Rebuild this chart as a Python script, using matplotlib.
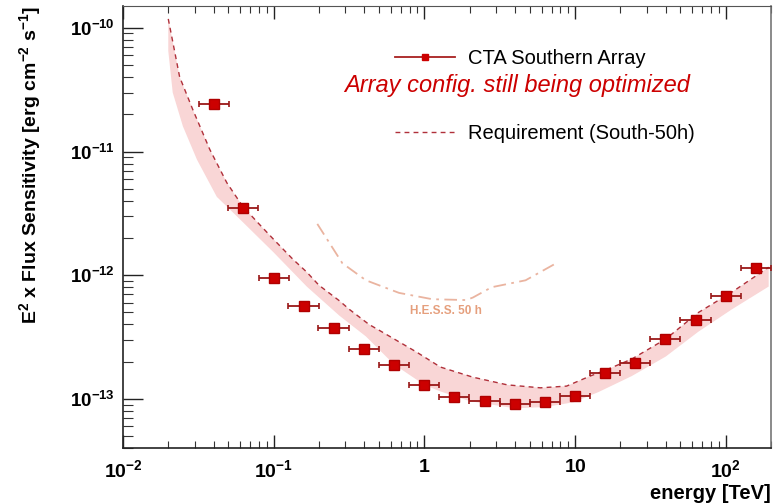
import numpy as np
import matplotlib
matplotlib.use("Agg")
import matplotlib.pyplot as plt
from matplotlib.ticker import FixedLocator, NullFormatter, LogLocator

plt.rcParams['font.family'] = ['Liberation Sans', 'DejaVu Sans']
plt.rcParams['mathtext.fontset'] = 'custom'
plt.rcParams['mathtext.rm'] = 'Liberation Sans'
plt.rcParams['mathtext.it'] = 'Liberation Sans:italic'
plt.rcParams['mathtext.bf'] = 'Liberation Sans:bold'

# ---- data ----
energy = [0.04, 0.063, 0.1, 0.158, 0.25, 0.398, 0.63, 1.0, 1.58, 2.51, 3.98,
          6.31, 10.0, 15.8, 25.1, 39.8, 63.1, 100.0, 158.0]
sensitivity = [2.44e-11, 3.5e-12, 9.5e-13, 5.6e-13, 3.74e-13, 2.53e-13, 1.88e-13,
               1.30e-13, 1.04e-13, 9.6e-14, 9.1e-14, 9.5e-14, 1.06e-13, 1.62e-13,
               1.95e-13, 3.05e-13, 4.33e-13, 6.8e-13, 1.14e-12]
sens_err = [1.8e-12, 1e-13, 2e-14, 1e-14, 6e-15, 4e-15, 3e-15, 2e-15, 2e-15, 2e-15,
            2e-15, 2e-15, 2e-15, 3e-15, 4e-15, 6e-15, 8e-15, 1.2e-14, 2e-14]
bin_half_width_dex = 0.1

req_energy = [0.02, 0.0238, 0.0291, 0.0377, 0.0489, 0.0624, 0.08, 0.1, 0.134, 0.166,
              0.2, 0.274, 0.318, 0.43, 0.527, 0.885, 1.28, 2.1, 3.55, 5.9, 8.8,
              12.6, 15.8, 23.8, 40.0, 66.0, 110.0, 193.0]
req_sens = [1.18e-10, 4.0e-11, 2.18e-11, 1.04e-11, 5.6e-12, 3.6e-12, 2.6e-12, 1.95e-12,
            1.35e-12, 1.06e-12, 8.3e-13, 6.2e-13, 5.3e-13, 4.0e-13, 3.47e-13, 2.4e-13,
            1.81e-13, 1.5e-13, 1.3e-13, 1.23e-13, 1.27e-13, 1.53e-13, 1.7e-13, 2.1e-13,
            3.05e-13, 5.0e-13, 7.3e-13, 1.16e-12]

band_energy = [0.02, 0.0214, 0.025, 0.031, 0.042, 0.057, 0.1, 0.166, 0.274, 0.41,
               0.63, 1.0, 1.28, 2.0, 4.0, 6.3, 9.8, 14.4, 23.8, 40.0, 66.0, 110.0, 193.0]
band_low = [6.5e-11, 3.0e-11, 1.6e-11, 8.6e-12, 4.3e-12, 3.0e-12, 1.53e-12, 8.1e-13,
            4.7e-13, 3.2e-13, 1.9e-13, 1.3e-13, 1.15e-13, 9.6e-14, 8.4e-14, 8.6e-14,
            9.4e-14, 1.14e-13, 1.53e-13, 2.2e-13, 3.5e-13, 5.3e-13, 8.1e-13]

hess_energy = [0.195, 0.286, 0.41, 0.68, 1.13, 1.9, 2.1, 2.8, 4.7, 7.5]
hess_sens = [2.6e-12, 1.25e-12, 9.1e-13, 7.2e-13, 6.4e-13, 6.3e-13, 6.6e-13, 8.0e-13,
             9.1e-13, 1.25e-12]

x_ticks = [0.01, 0.1, 1, 10, 100]
x_ticklabels = [r'$\mathbf{10^{-2}}$', r'$\mathbf{10^{-1}}$', r'$\mathbf{1}$',
                r'$\mathbf{10}$', r'$\mathbf{10^{2}}$']
y_ticks = [1e-13, 1e-12, 1e-11, 1e-10]
y_ticklabels = [r'$\mathbf{10^{-13}}$', r'$\mathbf{10^{-12}}$', r'$\mathbf{10^{-11}}$',
                r'$\mathbf{10^{-10}}$']

# ---- figure ----
fig = plt.figure(figsize=(7.78, 5.03), dpi=100)
ax = fig.add_axes([0.158, 0.109, 0.833, 0.879])
ax.set_xscale('log')
ax.set_yscale('log')
ax.set_xlim(0.01, 200)
ax.set_ylim(4e-14, 1.5e-10)

# band
poly_x = list(req_energy) + list(band_energy[::-1])
poly_y = list(req_sens) + list(band_low[::-1])
ax.fill(poly_x, poly_y, color='#f9d6d6', lw=0, zorder=1)

# requirement curve
ax.plot(req_energy, req_sens, color='#b0303a', lw=1.0, ls=(0, (3.5, 3)), zorder=2,
        label='Requirement (South-50h)')

# HESS curve
ax.plot(hess_energy, hess_sens, color='#eab4a0', lw=1.3, ls=(0, (7, 3, 1.5, 3)), zorder=2)
ax.text(1.4, 5.1e-13, 'H.E.S.S. 50 h', color='#e3956f', fontsize=8.5,
        ha='center', va='center', fontweight='bold', alpha=0.9)

# CTA points
e = np.array(energy)
xlo = e - e / 10 ** bin_half_width_dex
xhi = e * 10 ** bin_half_width_dex - e
ax.errorbar(energy, sensitivity, xerr=[xlo, xhi], yerr=sens_err, fmt='s',
            color='#cc0000', mec='#b00000', ms=7, ecolor='#9a1818', elinewidth=1.3,
            capsize=2.2, capthick=1.2, zorder=3, label='_nolegend_')
# legend proxy
ax.plot([], [], color='#a82020', lw=1.3, marker='s', ms=5, mfc='#cc0000', mec='#cc0000',
        label='CTA Southern Array')

handles, labels = ax.get_legend_handles_labels()
order = [labels.index('CTA Southern Array'), labels.index('Requirement (South-50h)')]
leg = ax.legend([handles[i] for i in order], [labels[i] for i in order],
                loc='upper left', bbox_to_anchor=(0.42, 0.902), frameon=False,
                fontsize=14.5, handlelength=2.95, handletextpad=0.65, labelspacing=2.78,
                borderpad=0, borderaxespad=0)

ax.text(0.608, 0.821, 'Array config. still being optimized', transform=ax.transAxes,
        color='#cc0000', fontsize=17, style='italic', ha='center', va='center')

# ticks
ax.xaxis.set_major_locator(FixedLocator(x_ticks))
ax.set_xticklabels(x_ticklabels)
ax.xaxis.set_minor_locator(LogLocator(base=10, subs=np.arange(2, 10)))
ax.xaxis.set_minor_formatter(NullFormatter())
ax.yaxis.set_major_locator(FixedLocator(y_ticks))
ax.set_yticklabels(y_ticklabels)
ax.yaxis.set_minor_locator(LogLocator(base=10, subs=np.arange(2, 10)))
ax.yaxis.set_minor_formatter(NullFormatter())

ax.tick_params(axis='x', which='major', direction='in', length=9.5, width=1.0,
               top=True, bottom=True, labelsize=14, pad=8, color='#222222')
ax.tick_params(axis='x', which='minor', direction='in', length=5, width=0.8,
               top=True, bottom=True, color='#333333')
ax.tick_params(axis='y', which='major', direction='in', length=14.5, width=1.0,
               left=True, right=False, labelsize=13.5, pad=6, color='#222222')
ax.tick_params(axis='y', which='minor', direction='in', length=7.5, width=0.8,
               left=True, right=False, color='#333333')

for s in ['left', 'bottom']:
    ax.spines[s].set_color('#222222')
    ax.spines[s].set_linewidth(1.2)
ax.spines['top'].set_color('#555555')
ax.spines['right'].set_color('#777777')
ax.spines['right'].set_linewidth(1.2)

ax.set_ylabel(r'E$^{\mathbf{2}}$ x Flux Sensitivity [erg cm$^{\mathbf{-2}}$ s$^{\mathbf{-1}}$]',
              fontsize=14, fontweight='bold', loc='top')
ax.yaxis.set_label_coords(-0.123, 1.0)
ax.set_xlabel('energy [TeV]', fontsize=14.5, fontweight='bold', loc='right')
ax.xaxis.set_label_coords(1.0, -0.08)

fig.savefig('out.png', dpi=100, facecolor='white')
